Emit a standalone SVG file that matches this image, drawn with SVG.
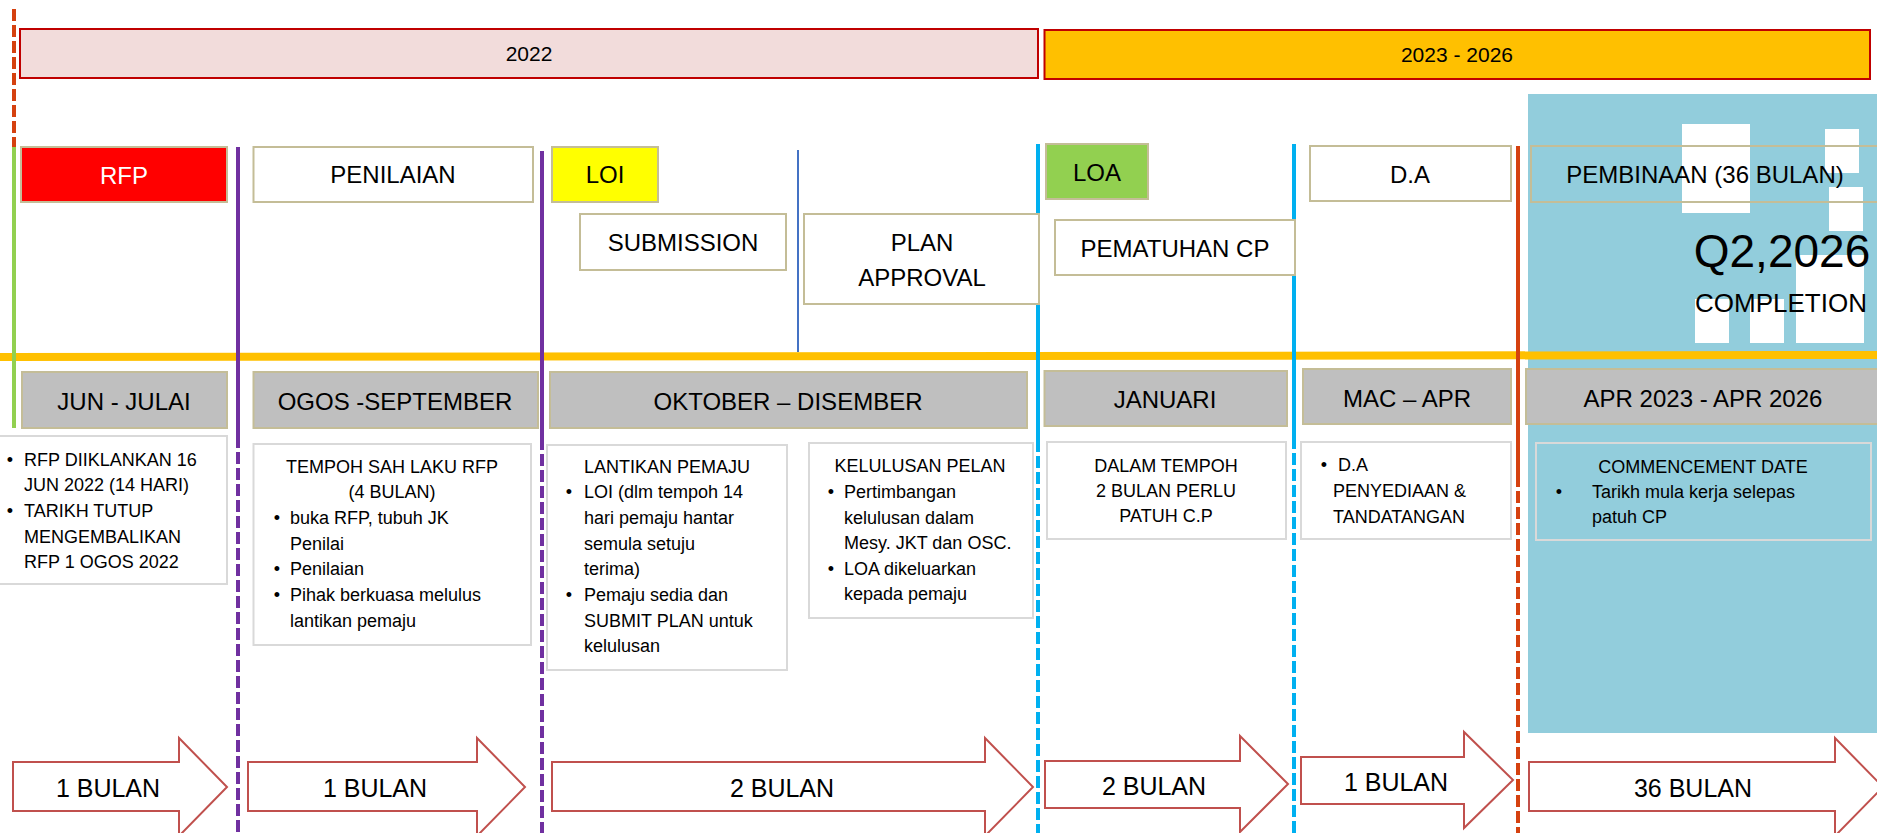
<svg xmlns="http://www.w3.org/2000/svg" width="1877" height="833" viewBox="0 0 1877 833">
<style>
text{font-family:"Liberation Sans",Arial,sans-serif;fill:#000}
.hd{font-size:24px;text-anchor:middle}
.bd{font-size:18px}
.c{text-anchor:middle}
.yr{font-size:21px;text-anchor:middle}
.ar{font-size:25px;text-anchor:middle}
.tan{stroke:#C4BD97;stroke-width:2}
.wb{fill:#fff;stroke:#C4BD97;stroke-width:2}
.gb{fill:#BFBFBF;stroke:#C4BD97;stroke-width:2}
.tb{fill:#fff;stroke:#D9D9D9;stroke-width:2}
.arrow{fill:#fff;stroke:#C0504D;stroke-width:2;stroke-linejoin:miter}
.dash{stroke-width:4;stroke-dasharray:12 4;fill:none}
.solid{stroke-width:4;fill:none}
</style>

<!-- background panel -->
<g id="panel">
<rect x="1528" y="94" width="349" height="639" fill="#92CDDC"/>
<rect x="1682" y="124" width="68" height="89" fill="#fff"/>
<rect x="1825" y="129" width="34" height="44" fill="#fff"/>
<rect x="1829" y="187" width="34" height="44" fill="#fff"/>
<rect x="1796" y="255" width="68" height="88" fill="#fff"/>
<rect x="1695" y="299" width="34" height="44" fill="#fff"/>
<rect x="1750" y="299" width="34" height="44" fill="#fff"/>
</g>

<!-- year bars -->
<g id="year2022">
<rect x="20" y="29" width="1018" height="49" fill="#F2DCDB" stroke="#C00000" stroke-width="2"/>
<text class="yr" x="529" y="61">2022</text>
</g>
<g id="year2023">
<rect x="1044.5" y="30" width="825.5" height="49" fill="#FFC000" stroke="#C00000" stroke-width="2"/>
<text class="yr" x="1457" y="62">2023 - 2026</text>
</g>

<!-- connectors / timeline lines -->
<g id="connectors">
<line x1="0" y1="357" x2="1877" y2="355" stroke="#FFC000" stroke-width="8"/>
<line x1="14" y1="9" x2="14" y2="147" class="dash" stroke="#D5410F"/>
<line x1="14" y1="147" x2="14" y2="428" class="solid" stroke="#92D050"/>
<line x1="238" y1="147" x2="238" y2="436" class="solid" stroke="#7030A0"/>
<line x1="238" y1="436" x2="238" y2="833" class="dash" stroke="#7030A0"/>
<line x1="542" y1="151" x2="542" y2="438" class="solid" stroke="#7030A0"/>
<line x1="542" y1="438" x2="542" y2="833" class="dash" stroke="#7030A0"/>
<line x1="798" y1="150" x2="798" y2="352" stroke="#4472C4" stroke-width="2"/>
<line x1="1038" y1="144" x2="1038" y2="440" class="solid" stroke="#00B0F0"/>
<line x1="1038" y1="440" x2="1038" y2="833" class="dash" stroke="#00B0F0"/>
<line x1="1294" y1="144" x2="1294" y2="437" class="solid" stroke="#00B0F0"/>
<line x1="1294" y1="437" x2="1294" y2="833" class="dash" stroke="#00B0F0"/>
<line x1="1518" y1="146" x2="1518" y2="475" class="solid" stroke="#D5410F"/>
<line x1="1518" y1="475" x2="1518" y2="833" class="dash" stroke="#D5410F"/>
</g>

<!-- phase headers -->
<g id="rfp">
<rect x="21" y="147" width="206" height="55" fill="#FF0000" class="tan"/>
<text class="hd" x="124" y="184" style="fill:#fff">RFP</text>
</g>
<g id="penilaian">
<rect x="253.5" y="147" width="279.5" height="55" class="wb"/>
<text class="hd" x="393" y="183">PENILAIAN</text>
</g>
<g id="loi">
<rect x="552" y="147" width="106" height="55" fill="#FFFF00" class="tan"/>
<text class="hd" x="605" y="183">LOI</text>
</g>
<g id="submission">
<rect x="580" y="214" width="206" height="56" class="wb"/>
<text class="hd" x="683" y="251">SUBMISSION</text>
</g>
<g id="plan-approval">
<rect x="804" y="214" width="235" height="90" class="wb"/>
<text class="hd" x="922" y="251">PLAN</text>
<text class="hd" x="922" y="286">APPROVAL</text>
</g>
<g id="loa">
<rect x="1046" y="144" width="102" height="55" fill="#92D050" class="tan"/>
<text class="hd" x="1097" y="181">LOA</text>
</g>
<g id="pematuhan">
<rect x="1055" y="220" width="240" height="55" class="wb"/>
<text class="hd" x="1175" y="257">PEMATUHAN CP</text>
</g>
<g id="da">
<rect x="1310" y="146" width="201" height="55" class="wb"/>
<text class="hd" x="1410" y="183">D.A</text>
</g>
<g id="pembinaan">
<rect x="1531" y="146" width="350" height="56" fill="none" class="tan"/>
<text class="hd" x="1705" y="183">PEMBINAAN (36 BULAN)</text>
</g>
<g id="completion">
<text x="1782" y="267" style="font-size:46px;text-anchor:middle">Q2,2026</text>
<text x="1781" y="312" style="font-size:26px;text-anchor:middle">COMPLETION</text>
</g>

<!-- month bars -->
<g id="m-jun">
<rect x="22" y="372" width="205" height="56" class="gb"/>
<text class="hd" x="124" y="410">JUN - JULAI</text>
</g>
<g id="m-ogos">
<rect x="253.5" y="372" width="284.5" height="56" class="gb"/>
<text class="hd" x="395" y="410">OGOS -SEPTEMBER</text>
</g>
<g id="m-okt">
<rect x="550" y="372" width="477" height="56" class="gb"/>
<text class="hd" x="788" y="410">OKTOBER – DISEMBER</text>
</g>
<g id="m-jan">
<rect x="1044.5" y="371" width="242.5" height="55" class="gb"/>
<text class="hd" x="1165" y="408">JANUARI</text>
</g>
<g id="m-mac">
<rect x="1303" y="369" width="208" height="55" class="gb"/>
<text class="hd" x="1407" y="407">MAC – APR</text>
</g>
<g id="m-apr">
<rect x="1526" y="369" width="355" height="55" class="gb"/>
<text class="hd" x="1703" y="407">APR 2023 - APR 2026</text>
</g>

<!-- detail boxes -->
<g id="d-rfp">
<rect x="-2" y="436" width="229" height="148" class="tb"/>
<text class="bd c" x="10" y="466">•</text>
<text class="bd" x="24" y="466">RFP DIIKLANKAN 16</text>
<text class="bd" x="24" y="491">JUN 2022 (14 HARI)</text>
<text class="bd c" x="10" y="517">•</text>
<text class="bd" x="24" y="517">TARIKH TUTUP</text>
<text class="bd" x="24" y="543">MENGEMBALIKAN</text>
<text class="bd" x="24" y="568">RFP 1 OGOS 2022</text>
</g>
<g id="d-tempoh">
<rect x="253.5" y="444" width="277.5" height="201" class="tb"/>
<text class="bd c" x="392" y="473">TEMPOH SAH LAKU RFP</text>
<text class="bd c" x="392" y="498">(4 BULAN)</text>
<text class="bd c" x="277" y="524">•</text>
<text class="bd" x="290" y="524">buka RFP, tubuh JK</text>
<text class="bd" x="290" y="550">Penilai</text>
<text class="bd c" x="277" y="575">•</text>
<text class="bd" x="290" y="575">Penilaian</text>
<text class="bd c" x="277" y="601">•</text>
<text class="bd" x="290" y="601">Pihak berkuasa melulus</text>
<text class="bd" x="290" y="627">lantikan pemaju</text>
</g>
<g id="d-lantikan">
<rect x="547" y="445" width="240" height="225" class="tb"/>
<text class="bd c" x="667" y="473">LANTIKAN PEMAJU</text>
<text class="bd c" x="569" y="498">•</text>
<text class="bd" x="584" y="498">LOI (dlm tempoh 14</text>
<text class="bd" x="584" y="524">hari pemaju hantar</text>
<text class="bd" x="584" y="550">semula setuju</text>
<text class="bd" x="584" y="575">terima)</text>
<text class="bd c" x="569" y="601">•</text>
<text class="bd" x="584" y="601">Pemaju sedia dan</text>
<text class="bd" x="584" y="627">SUBMIT PLAN untuk</text>
<text class="bd" x="584" y="652">kelulusan</text>
</g>
<g id="d-kelulusan">
<rect x="809" y="443" width="224" height="175" class="tb"/>
<text class="bd c" x="920" y="472">KELULUSAN PELAN</text>
<text class="bd c" x="831" y="498">•</text>
<text class="bd" x="844" y="498">Pertimbangan</text>
<text class="bd" x="844" y="524">kelulusan dalam</text>
<text class="bd" x="844" y="549">Mesy. JKT dan OSC.</text>
<text class="bd c" x="831" y="575">•</text>
<text class="bd" x="844" y="575">LOA dikeluarkan</text>
<text class="bd" x="844" y="600">kepada pemaju</text>
</g>
<g id="d-dalam">
<rect x="1047" y="442" width="239" height="97" class="tb"/>
<text class="bd c" x="1166" y="472">DALAM TEMPOH</text>
<text class="bd c" x="1166" y="497">2 BULAN PERLU</text>
<text class="bd c" x="1166" y="522">PATUH C.P</text>
</g>
<g id="d-da">
<rect x="1301" y="442" width="210" height="97" class="tb"/>
<text class="bd c" x="1324" y="471">•</text>
<text class="bd" x="1338" y="471">D.A</text>
<text class="bd" x="1333" y="497">PENYEDIAAN &amp;</text>
<text class="bd" x="1333" y="523">TANDATANGAN</text>
</g>
<g id="d-commencement">
<rect x="1536" y="443" width="335" height="97" fill="none" stroke="#D9D9D9" stroke-width="2"/>
<text class="bd c" x="1703" y="473">COMMENCEMENT DATE</text>
<text class="bd c" x="1559" y="498">•</text>
<text class="bd" x="1592" y="498">Tarikh mula kerja selepas</text>
<text class="bd" x="1592" y="523">patuh CP</text>
</g>

<!-- duration arrows -->
<g id="a1">
<polygon class="arrow" points="13,762 179,762 179,738 227,787 179,836 179,811 13,811"/>
<text class="ar" x="108" y="797">1 BULAN</text>
</g>
<g id="a2">
<polygon class="arrow" points="248,762 477,762 477,738 525,787 477,836 477,811 248,811"/>
<text class="ar" x="375" y="797">1 BULAN</text>
</g>
<g id="a3">
<polygon class="arrow" points="552,762 985,762 985,738 1033,787 985,836 985,811 552,811"/>
<text class="ar" x="782" y="797">2 BULAN</text>
</g>
<g id="a4">
<polygon class="arrow" points="1045,761 1240,761 1240,736 1288,784 1240,832 1240,808 1045,808"/>
<text class="ar" x="1154" y="795">2 BULAN</text>
</g>
<g id="a5">
<polygon class="arrow" points="1301,757 1464,757 1464,732 1513,780 1464,828 1464,804 1301,804"/>
<text class="ar" x="1396" y="791">1 BULAN</text>
</g>
<g id="a6">
<polygon class="arrow" points="1529,762 1835,762 1835,738 1883,787 1835,836 1835,811 1529,811"/>
<text class="ar" x="1693" y="797">36 BULAN</text>
</g>
</svg>
